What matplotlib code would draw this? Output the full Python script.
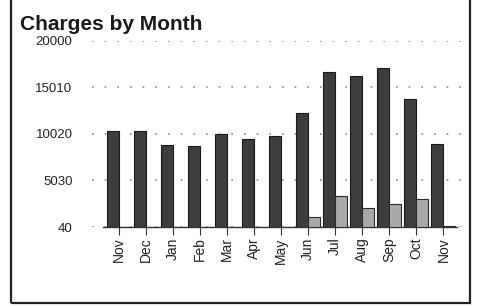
import numpy as np
import matplotlib
matplotlib.use("Agg")
import matplotlib.pyplot as plt
from matplotlib.patches import Rectangle

# data
months = ["Nov", "Dec", "Jan", "Feb", "Mar", "Apr", "May",
          "Jun", "Jul", "Aug", "Sep", "Oct", "Nov"]
charges = [10270, 10340, 8810, 8660, 9950, 9450, 9730,
           12230, 16610, 16190, 17070, 13690, 8950]
credits = [0, 0, 0, 0, 0, 0, 0,
           1100, 3350, 2030, 2450, 3050, 150]
yticks = [40, 5030, 10020, 15010, 20000]

plt.rcParams["font.family"] = ["Liberation Sans", "DejaVu Sans"]

fig = plt.figure(figsize=(4.82, 3.07), dpi=100)
fig.patch.set_facecolor("white")
ax = fig.add_axes([92 / 482, 80 / 307, 373 / 482, 186.5 / 307])

x = np.arange(len(months))
w = 0.44
ax.bar(x - w / 2, charges, w, bottom=0, color="#3d3d3d",
       edgecolor="#1a1a1a", linewidth=0.8, zorder=3)
ax.bar(x + w / 2, credits, w, bottom=0, color="#a9a9a9",
       edgecolor="#2a2a2a", linewidth=0.8, zorder=3)

ax.set_xlim(-1.0, 12.8)
ax.set_ylim(yticks[0], yticks[-1])
ax.set_yticks(yticks)
ax.set_yticklabels([str(v) for v in yticks], fontsize=9.5, color="#222222")
ax.set_xticks(x)
ax.set_xticklabels(months, rotation=90, fontsize=10, color="#222222")

ax.yaxis.grid(True, linestyle=(0, (1, 6.6)), linewidth=1.2, color="#8a8a8a")
ax.set_axisbelow(True)
ax.tick_params(axis="y", length=0, pad=14)
ax.tick_params(axis="x", length=6, width=0.8, color="#333333",
               direction="out", pad=1.5)

for side in ("top", "right", "left"):
    ax.spines[side].set_visible(False)
ax.spines["bottom"].set_color("#333333")
ax.spines["bottom"].set_linewidth(1.0)
ax.spines["bottom"].set_bounds(-0.6, 12.5)

fig.text(20 / 482, 1 - 30 / 307, "Charges by Month", fontsize=15,
         fontweight="bold", color="#1a1a1a", va="baseline", ha="left")

fig.patches.append(Rectangle((11 / 482, 4 / 307), 459 / 482, 305 / 307,
                             transform=fig.transFigure, fill=False,
                             edgecolor="#222222", linewidth=1.6))

fig.savefig("out.png", dpi=100)
